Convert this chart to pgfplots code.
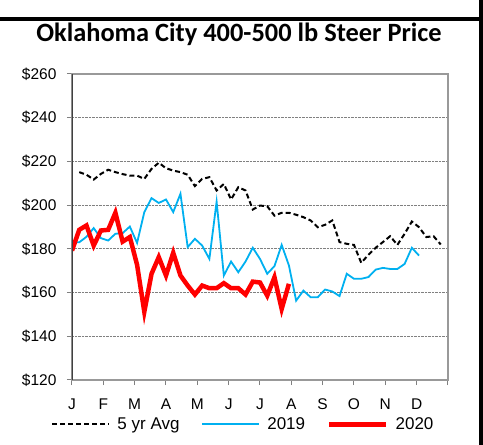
\documentclass[border=0pt]{standalone}
\usepackage{fontspec}
\setmainfont{Liberation Sans}
\newfontfamily\titlefont{Carlito}
\usepackage{pgfplots}
\pgfplotsset{compat=1.18}
\definecolor{blue19}{RGB}{0,176,240}
\begin{document}
\begin{tikzpicture}
\useasboundingbox (0pt,0pt) rectangle (483pt,445pt);
\fill[black] (0pt,424pt) rectangle (479pt,428pt);
\fill[black] (479pt,0pt) rectangle (483pt,445pt);
\node[font=\titlefont\bfseries\fontsize{26.4}{30}\selectfont, anchor=base] at (239pt,403pt) {Oklahoma City 400-500 lb Steer Price};
\begin{axis}[at={(72pt,65pt)}, anchor=south west, scale only axis, width=376pt, height=306pt,
 xmin=0, xmax=52, ymin=120, ymax=260,
 xtick={0,4.3333,8.6667,13,17.3333,21.6667,26,30.3333,34.6667,39,43.3333,47.6667,52},
 xticklabels={J,F,M,A,M,J,J,A,S,O,N,D,},
 ytick={120,140,...,260},
 yticklabels={\$120,\$140,\$160,\$180,\$200,\$220,\$240,\$260},
 tick pos=left, tick align=outside, major tick length=5pt,
 every tick/.style={gray, line width=1pt},
 ymajorgrids, grid style={densely dotted, gray, line width=0.8pt},
 axis line style={gray!80, line width=1.5pt},
 tick label style={font=\fontsize{15.5}{18}\selectfont},
 xticklabel style={yshift=-10pt},
 yticklabel style={xshift=-7pt},
 legend columns=3,
 legend style={draw=none, fill=none, at={(0.456,-0.145)}, anchor=center, font=\fontsize{17}{20}\selectfont,
   /tikz/every odd column/.append style={column sep=5pt},
   /tikz/every even column/.append style={column sep=20pt}},
 legend image code/.code={\draw[#1] (0pt,0pt) -- (57pt,0pt);},
]
\addplot[black, line width=2pt, dash pattern=on 5pt off 3pt] coordinates {
(1,215.1)(2,213.9)(3,211.7)(4,214.3)(5,216.2)(6,215.1)(7,214.2)(8,213.5)(9,213.5)(10,212)
(11,216.6)(12,219.4)(13,216.9)(14,215.8)(15,215.1)(16,213.9)(17,208.7)(18,212)(19,212.8)(20,206.7)
(21,209.7)(22,202.6)(23,208.2)(24,206.7)(25,198)(26,199.8)(27,199.5)(28,195.2)(29,196.5)(30,196.5)
(31,195.6)(32,194.5)(33,193)(34,189.9)(35,191)(36,193)(37,183.1)(38,182.3)(39,181.8)(40,173.6)
(41,177.3)(42,180.5)(43,183.1)(44,185.8)(45,181.8)(46,186.9)(47,192.5)(48,189.9)(49,185.4)(50,185.8)(51,182)
};
\addlegendentry{5 yr Avg}
\addplot[blue19, line width=1.8pt] coordinates {
(0,183)(1,183)(2,185.5)(3,189.5)(4,184.9)(5,183.8)(6,186.9)(7,187.2)(8,190.2)(9,182.7)
(10,196.8)(11,203.2)(12,201)(13,202.6)(14,196.8)(15,205.2)(16,180.8)(17,184.6)(18,181.5)(19,175.4)
(20,201.6)(21,167.8)(22,174.2)(23,169.3)(24,174.2)(25,180.5)(26,175.4)(27,168.6)(28,172.1)(29,181.8)
(30,172.4)(31,156.3)(32,160.9)(33,157.9)(34,157.9)(35,161.4)(36,160.5)(37,158.4)(38,168.6)(39,166.3)
(40,166.3)(41,167.1)(42,170.5)(43,171.3)(44,170.8)(45,170.8)(46,173.1)(47,180.5)(48,176.9)
};
\addlegendentry{2019}
\addplot[red, line width=4.5pt] coordinates {
(0,179.2)(1,188.7)(2,190.7)(3,181.5)(4,188.4)(5,188.7)(6,196.5)(7,183.3)(8,185.4)(9,172.7)
(10,151.2)(11,168.6)(12,176.2)(13,167.8)(14,178.2)(15,167.8)(16,163.2)(17,159.1)(18,163.2)(19,162)
(20,162)(21,164.3)(22,162)(23,162)(24,159.1)(25,165)(26,164.6)(27,158.6)(28,167)(29,152.5)(30,164)
};
\addlegendentry{2020}
\draw[black!75, line width=1.6pt] (rel axis cs:0,0) -- (rel axis cs:0,1);
\end{axis}
\end{tikzpicture}
\end{document}
